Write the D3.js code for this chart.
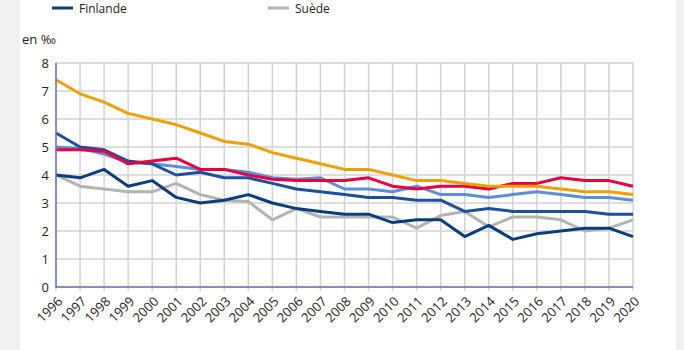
<!DOCTYPE html>
<html><head><meta charset="utf-8">
<script src="https://cdn.jsdelivr.net/npm/d3@7"></script>
<style>
html,body{margin:0;padding:0;background:#f0f0f0;}
svg{display:block;font-family:"Open Sans",sans-serif;}
</style></head><body>
<svg id="c" width="684" height="350"></svg>
<script>
const years = d3.range(1996, 2021).map(String);
const yTicks = [0,1,2,3,4,5,6,7,8];
const serieOrange = [7.4,6.9,6.6,6.2,6.0,5.8,5.5,5.2,5.1,4.8,4.6,4.4,4.2,4.2,4.0,3.8,3.8,3.7,3.6,3.6,3.6,3.5,3.4,3.4,3.3];
const serieRouge = [4.9,4.9,4.85,4.4,4.5,4.6,4.2,4.2,4.0,3.85,3.8,3.8,3.8,3.9,3.6,3.5,3.6,3.6,3.5,3.7,3.7,3.9,3.8,3.8,3.6];
const serieBleuClair = [5.0,4.95,4.75,4.45,4.4,4.3,4.2,4.2,4.1,3.9,3.85,3.9,3.5,3.5,3.4,3.6,3.3,3.3,3.2,3.3,3.4,3.3,3.2,3.2,3.1];
const serieBleu = [5.5,5.0,4.9,4.5,4.4,4.0,4.1,3.9,3.9,3.7,3.5,3.4,3.3,3.2,3.2,3.1,3.1,2.7,2.8,2.7,2.7,2.7,2.7,2.6,2.6];
const finlande = [4.0,3.9,4.2,3.6,3.8,3.2,3.0,3.1,3.3,3.0,2.8,2.7,2.6,2.6,2.3,2.4,2.4,1.8,2.2,1.7,1.9,2.0,2.1,2.1,1.8];
const suede = [4.0,3.6,3.5,3.4,3.4,3.7,3.3,3.1,3.05,2.4,2.8,2.5,2.5,2.5,2.5,2.1,2.55,2.7,2.15,2.5,2.5,2.4,2.0,2.1,2.4];

const series = [
  {name:"Suède", values:suede, color:"#b3b3b3"},
  {name:"Finlande", values:finlande, color:"#0b3c7c"},
  {name:"Série C", values:serieBleuClair, color:"#5b8fdc"},
  {name:"Série B", values:serieBleu, color:"#1c4f9e"},
  {name:"Série A", values:serieRouge, color:"#e8003f"},
  {name:"Série O", values:serieOrange, color:"#efa000"}
];

const svg = d3.select("#c");
svg.append("rect").attr("x",20).attr("y",0).attr("width",656).attr("height",350).attr("fill","#fff");

const x = d3.scalePoint().domain(years).range([56,633]);
const y = d3.scaleLinear().domain([0,8]).range([287,63]);

// grid
const g = svg.append("g");
g.selectAll(".hg").data(yTicks).join("line")
  .attr("x1",56).attr("x2",633).attr("y1",d=>y(d)).attr("y2",d=>y(d))
  .attr("stroke","#d2d2d2").attr("stroke-width",1.5);
g.selectAll(".vg").data(years).join("line")
  .attr("x1",d=>x(d)).attr("x2",d=>x(d)).attr("y1",y(8)).attr("y2",y(0)+4)
  .attr("stroke","#d2d2d2").attr("stroke-width",1.5);

// y labels
svg.append("g").selectAll("text").data(yTicks).join("text")
  .attr("x",49).attr("y",d=>y(d)).attr("dy","0.36em").attr("text-anchor","end")
  .attr("font-size",13).attr("fill","#222").text(d=>d);

// x labels
svg.append("g").selectAll("text").data(years).join("text")
  .attr("transform",d=>`translate(${x(d)+4},${y(0)+12}) rotate(-45)`)
  .attr("text-anchor","end").attr("dy","0.35em")
  .attr("font-size",13).attr("fill","#222").text(d=>d);

// lines
const line = d3.line().x((d,i)=>x(years[i])).y(d=>y(d));
svg.append("g").selectAll("path").data(series).join("path")
  .attr("d",d=>line(d.values)).attr("fill","none")
  .attr("stroke",d=>d.color).attr("stroke-width",3).attr("stroke-linejoin","round");

// axes
svg.append("line").attr("x1",56).attr("x2",56).attr("y1",y(8)).attr("y2",y(0)+1)
  .attr("stroke","#6f6fb3").attr("stroke-width",1.5);
svg.append("line").attr("x1",56).attr("x2",633).attr("y1",y(0)).attr("y2",y(0))
  .attr("stroke","#6f6fb3").attr("stroke-width",1.5);

// unit
svg.append("text").attr("x",22).attr("y",44).attr("font-size",13).attr("fill","#222").text("en ‰");

// legend
const leg = [{name:"Finlande",color:"#0b3c7c",x:52},{name:"Suède",color:"#b3b3b3",x:268}];
const lg = svg.append("g").selectAll("g").data(leg).join("g");
lg.append("line").attr("x1",d=>d.x).attr("x2",d=>d.x+21).attr("y1",8).attr("y2",8)
  .attr("stroke",d=>d.color).attr("stroke-width",3);
lg.append("text").attr("x",d=>d.x+27).attr("y",9).attr("dy","0.35em")
  .attr("font-size",12).attr("fill","#222").text(d=>d.name);
</script>
</body></html>
